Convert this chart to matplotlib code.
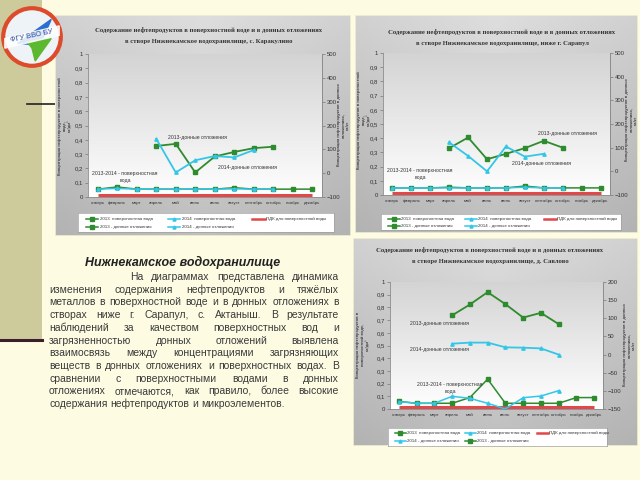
import numpy as np
import matplotlib
matplotlib.use("Agg")
import matplotlib.pyplot as plt
from matplotlib.patches import Rectangle, Circle, Polygon

W, H = 640, 480
nan = np.nan

MONTHS = ["январь", "февраль", "март", "апрель", "май", "июнь",
          "июль", "август", "сентябрь", "октябрь", "ноябрь", "декабрь"]
LEFT_TICKS = [0, 0.1, 0.2, 0.3, 0.4, 0.5, 0.6, 0.7, 0.8, 0.9, 1.0]
LEFT_LABELS = ["0", "0,1", "0,2", "0,3", "0,4", "0,5", "0,6", "0,7", "0,8", "0,9", "1"]

# с. Каракулино
K_W13 = [0.055, 0.07, 0.055, 0.055, 0.055, 0.055, 0.055, 0.065, 0.055, 0.055, 0.055, 0.055]
K_W14 = [0.055, 0.06, 0.055, 0.055, 0.055, 0.055, 0.055, 0.057, 0.055, 0.055, nan, nan]
K_S13 = [nan, nan, nan, 114, 123, 3, 70, 89, 105, 111, nan, nan]
K_S14 = [nan, nan, nan, 144, 3, 54, 72, 66, 97, nan, nan, nan]
K_RIGHT = [-100, 0, 100, 200, 300, 400, 500]

# ниже г. Сарапул
S_W13 = [0.05, 0.05, 0.05, 0.055, 0.05, 0.05, 0.05, 0.063, 0.05, 0.05, 0.05, 0.05]
S_W14 = [0.05, 0.05, 0.05, 0.05, 0.05, 0.05, 0.05, 0.055, 0.05, 0.05, nan, nan]
S_S13 = [nan, nan, nan, 98, 143, 51, 74, 98, 129, 100, nan, nan]
S_S14 = [nan, nan, nan, 122, 65, 0, 105, 62, 74, nan, nan, nan]
S_RIGHT = [-100, 0, 100, 200, 300, 400, 500]

# д. Савлово
V_W13 = [0.06, 0.045, 0.045, 0.045, 0.09, 0.235, 0.045, 0.045, 0.045, 0.045, 0.09, 0.09]
V_W14 = [0.058, 0.045, 0.045, 0.1, 0.084, 0.045, 0.0, 0.089, 0.102, 0.144, nan, nan]
V_S13 = [nan, nan, nan, 108, 138, 172, 139, 102, 115, 84, nan, nan]
V_S14 = [nan, nan, nan, 30, 33, 33, 20, 19, 17, 0, nan, nan]
V_RIGHT = [-150, -100, -50, 0, 50, 100, 150, 200]

PDK = 0.012

GREEN = "#2e8b2e"
CYAN = "#33c6e8"
RED = "#e0484a"
CREAM = "#fdfce3"
OLIVE = "#cdcb9c"

TITLE_1 = "Содержание нефтепродуктов в поверхностной воде и в донных отложениях"
BODY = [
    "На диаграммах представлена динамика",
    "изменения содержания нефтепродуктов и тяжёлых",
    "металлов в поверхностной воде и в донных отложениях в",
    "створах ниже г. Сарапул, с. Актаныш. В результате",
    "наблюдений за качеством поверхностных вод и",
    "загрязненностью донных отложений выявлена",
    "взаимосвязь между концентрациями загрязняющих",
    "веществ в донных отложениях и поверхностных водах. В",
    "сравнении с поверхностными водами в донных",
    "отложениях отмечаются, как правило, более высокие",
    "содержания нефтепродуктов и микроэлементов.",
]

plt.rcParams["font.family"] = ["Liberation Sans", "DejaVu Sans"]


def fr(x0, y0, x1, y1):
    # pixel box -> figure rect
    return [x0 / W, 1 - y1 / H, (x1 - x0) / W, (y1 - y0) / H]


def gradient_axes(fig, box, top, bottom, side=0.0):
    ax = fig.add_axes(fr(*box))
    v = np.linspace(top, bottom, 100)[:, None]
    u = np.linspace(-1, 1, 100)[None, :]
    g = np.clip(v + side * (1 - np.abs(u)), 0, 1)
    ax.imshow(np.dstack([g, g, g]), aspect="auto", extent=[0, 1, 0, 1])
    ax.set_xlim(0, 1)
    ax.set_ylim(0, 1)
    ax.axis("off")
    return ax


def draw_panel(fig, panel, plot, legend, place, series, right_ticks, notes,
               title_xy, lab_l, lab_r, txt_l, txt_r, sed_first_13=True):
    w13, w14, s13, s14 = series
    outer = gradient_axes(fig, panel, 0.82, 0.70, side=0.05)
    outer.add_patch(Rectangle((0, 0), 1, 1, fill=False, ec="#f2f0d2", lw=1.2,
                              transform=outer.transAxes))
    gradient_axes(fig, plot, 0.83, 1.0)

    x = np.arange(12)
    ax = fig.add_axes(fr(*plot))
    ax.patch.set_visible(False)
    ax.plot(x, [PDK] * 12, color=RED, lw=2.2, solid_capstyle="butt")
    ax.plot(x, w13, color=GREEN, lw=1.1, marker="s", ms=2.2)
    ax.plot(x, w14, color=CYAN, lw=1.1, marker="^", ms=2.4)
    ax.set_xlim(-0.5, 11.5)
    ax.set_ylim(0, 1)
    ax.set_yticks(LEFT_TICKS)
    ax.set_yticklabels(LEFT_LABELS)
    ax.set_xticks(x)
    ax.set_xticklabels(MONTHS)
    ax.spines["top"].set_visible(False)
    for s in ("left", "bottom", "right"):
        ax.spines[s].set_color("#8c8c8c")
        ax.spines[s].set_linewidth(0.6)
    ax.tick_params(axis="y", labelsize=4.3, length=2, width=0.5, pad=1.5,
                   color="#777777", labelcolor="#333333")
    ax.tick_params(axis="x", labelsize=3.2, length=0, pad=3, labelcolor="#333333")

    ax2 = ax.twinx()
    ax2.plot(x, s13, color=GREEN, lw=1.3, marker="s", ms=2.4)
    ax2.plot(x, s14, color=CYAN, lw=1.3, marker="^", ms=2.4)
    ax2.set_ylim(right_ticks[0], right_ticks[-1])
    ax2.set_yticks(right_ticks)
    ax2.set_xlim(-0.5, 11.5)
    for s in ("top", "left", "bottom"):
        ax2.spines[s].set_visible(False)
    ax2.spines["right"].set_color("#8c8c8c")
    ax2.spines["right"].set_linewidth(0.6)
    ax2.tick_params(axis="y", labelsize=4.3, length=2, width=0.5, pad=1.5,
                    color="#777777", labelcolor="#333333")

    # title
    tx, ty = title_xy
    fig.text(tx / W, 1 - ty / H, TITLE_1, ha="center", va="center",
             family="Liberation Serif", weight="bold", fontsize=4.8, color="#333333")
    fig.text(tx / W, 1 - (ty + 12) / H, place, ha="center", va="center",
             family="Liberation Serif", weight="bold", fontsize=4.8, color="#333333")

    # axis titles
    for (lx, ly), t in ((lab_l, txt_l), (lab_r, txt_r)):
        fig.text(lx / W, 1 - ly / H, t, rotation=90, ha="center",
                 va="center", multialignment="center", fontsize=2.9, weight="bold",
                 color="#444444", linespacing=1.1)

    for (nx, ny, s) in notes:
        fig.text(nx / W, 1 - ny / H, s, ha="center", va="center", fontsize=3.7,
                 color="#333333", multialignment="center", linespacing=1.5)

    # legend
    lg = fig.add_axes(fr(*legend))
    lg.set_xlim(0, 1)
    lg.set_ylim(0, 1)
    lg.set_xticks([])
    lg.set_yticks([])
    lg.set_facecolor("white")
    for s in lg.spines.values():
        s.set_color("#a0a0a0")
        s.set_linewidth(0.5)
    row2 = [("2013 - донные отложения", GREEN, "s"), ("2014 - донные отложения", CYAN, "^")]
    if not sed_first_13:
        row2 = row2[::-1]
    items = [
        (0.03, 0.70, "2013  поверхностная вода", GREEN, "s"),
        (0.35, 0.70, "2014  поверхностная вода", CYAN, "^"),
        (0.03, 0.28, row2[0][0], row2[0][1], row2[0][2]),
        (0.35, 0.28, row2[1][0], row2[1][1], row2[1][2]),
    ]
    for lx, ly, s, c, m in items:
        lg.plot([lx, lx + 0.05], [ly, ly], color=c, lw=1.1)
        lg.plot([lx + 0.025], [ly], color=c, marker=m, ms=2.2)
        lg.text(lx + 0.055, ly, s, fontsize=3.2, va="center", color="#333333")
    lg.plot([0.68, 0.73], [0.70, 0.70], color=RED, lw=1.8)
    lg.text(0.735, 0.70, "ПДК для поверхностной воды", fontsize=3.2,
            va="center", color="#333333")


def justify_line(fig, line, y, x0, x1, last, **kw):
    words = line.split()
    r = fig.canvas.get_renderer()
    texts = [fig.text(0, 1 - y / H, wd, ha="left", va="center", **kw) for wd in words]
    widths = [t.get_window_extent(r).width for t in texts]
    if last or len(words) == 1:
        gap = kw.get("fontsize", 8) * 0.3 * 100 / 72
    else:
        gap = (x1 - x0 - sum(widths)) / (len(words) - 1)
    xx = x0
    for t, wd in zip(texts, widths):
        t.set_x(xx / W)
        xx += wd + gap


fig = plt.figure(figsize=(6.4, 4.8), dpi=100)
fig.patch.set_facecolor(CREAM)

# left olive strip and lines
bg = fig.add_axes([0, 0, 1, 1])
bg.set_xlim(0, W)
bg.set_ylim(H, 0)
bg.axis("off")
bg.add_patch(Rectangle((0, 0), 42, 340, color=OLIVE, lw=0))
bg.plot([0, 42], [340, 340], color="#3b1d2c", lw=2.2)
bg.plot([27, 56], [104, 104], color="#222222", lw=1.2)

LAB_L = "Концентрация нефтепродуктов в поверхностной\nводе,\nмг/дм³"
LAB_L3 = "Концентрация нефтепродуктов в\nповерхностной воде,\nмг/дм³"
LAB_R = "Концентрация нефтепродуктов в донных\nотложениях,\nмг/кг"
SURF = "2013-2014 - поверхностная\nвода"

draw_panel(fig, (55, 15, 351, 236), (88, 54, 322, 197), (78, 213, 334, 232),
           "в створе Нижнекамское водохранилище, с. Каракулино",
           (K_W13, K_W14, K_S13, K_S14), K_RIGHT,
           [(197, 137, "2013-донные отложения"), (248, 167, "2014-донные отложения"),
            (125, 177, SURF)],
           (209, 30), (65, 126), (343, 125), LAB_L, LAB_R)

draw_panel(fig, (355, 15, 638, 233), (383, 53, 610, 195), (381, 214, 621, 230),
           "в створе Нижнекамское водохранилище, ниже г. Сарапул",
           (S_W13, S_W14, S_S13, S_S14), S_RIGHT,
           [(567, 134, "2013-донные отложения"), (542, 164, "2014-донные отложения"),
            (420, 174, SURF)],
           (502, 32), (364, 120), (631, 120), LAB_L, LAB_R)

draw_panel(fig, (353, 238, 638, 446), (390, 282, 603, 409), (388, 428, 607, 446),
           "в створе Нижнекамское водохранилище, д. Савлово",
           (V_W13, V_W14, V_S13, V_S14), V_RIGHT,
           [(440, 323, "2013-донные отложения"), (440, 350, "2014-донные отложения"),
            (450, 388, SURF)],
           (490, 250), (363, 345), (629, 345), LAB_L3, LAB_R, sed_first_13=False)

# logo
lax = fig.add_axes(fr(0, 5, 64, 69))
lax.set_xlim(-1, 1)
lax.set_ylim(-1, 1)
lax.set_aspect("equal")
lax.axis("off")
lax.add_patch(Circle((0, 0), 0.9, facecolor="#eef3f8", edgecolor="#dd4b2b", lw=3.0))
lax.add_patch(Polygon([(-0.45, -0.2), (0.6, 0.55), (0.25, -0.25)], color="#2a6fd0"))
lax.add_patch(Polygon([(-0.15, -0.15), (0.6, -0.05), (0.1, -0.75), (0.0, -0.35)],
                      color="#5cb82e"))
lax.add_patch(Polygon([(-0.85, -0.05), (0.85, 0.35), (0.85, 0.05), (-0.85, -0.35)],
                      color="white", alpha=0.85))
lax.text(0, 0.02, "ФГУ ВВО БУ", ha="center", va="center", rotation=12,
         fontsize=5.3, color="#2c4a9e")

# text block
fig.text(183 / W, 1 - 262 / H, "Нижнекамское водохранилище", ha="center", va="center",
         fontsize=9, weight="bold", style="italic", color="#222222")
for i, line in enumerate(BODY):
    y = 277 + i * 12.7
    x0 = 130 if i == 0 else 49
    justify_line(fig, line, y, x0, 339, i == len(BODY) - 1, fontsize=7.5, color="#3a3a3a")

fig.savefig("out.png", dpi=100, facecolor=fig.get_facecolor())
